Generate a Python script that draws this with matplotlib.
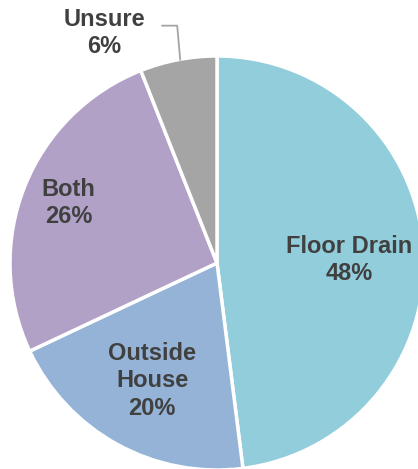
import matplotlib.pyplot as plt
import numpy as np

categories = ["Floor Drain", "Outside House", "Both", "Unsure"]
shares = [48, 20, 26, 6]
colors = ["#92CDDC", "#95B3D7", "#B2A1C7", "#A5A5A5"]
label_text = ["Floor Drain", "Outside\nHouse", "Both", "Unsure"]

W, H = 418, 469
fig = plt.figure(figsize=(W / 100, H / 100), dpi=100)
ax = fig.add_axes([0, 0, 1, 1])

cx, cy, r = 217, H - 263, 207
wedges, _ = ax.pie(shares, colors=colors, startangle=90, counterclock=False,
                   center=(cx, cy), radius=r, frame=True,
                   wedgeprops=dict(edgecolor="white", linewidth=2.5))
ax.set_xlim(0, W)
ax.set_ylim(0, H)
ax.set_aspect("equal")
ax.axis("off")

font = dict(family="Liberation Sans", weight="bold", size=17, color="#404040",
            ha="center", va="center", linespacing=1.24)

# label distance as a fraction of the radius, plus a vertical nudge, per slice
dist = [0.64, 0.65, 0.77]
nudge = [-5, 0, 1]
for w, name, val, d, dy in zip(wedges[:3], label_text[:3], shares[:3], dist, nudge):
    mid = np.deg2rad((w.theta1 + w.theta2) / 2)
    x = cx + d * r * np.cos(mid)
    y = cy + d * r * np.sin(mid) + dy
    ax.text(x, y, f"{name}\n{val}%", **font)

# small slice gets an outside label with a leader line
w = wedges[3]
mid = np.deg2rad((w.theta1 + w.theta2) / 2)
ex, ey = cx + r * np.cos(mid), cy + r * np.sin(mid)
ax.plot([ex + 2, ex - 1, ex - 16], [ey, ey + 34, ey + 34], color="#A5A5A5", lw=1.3)
ax.text(ex - 74, ey + 27, f"{label_text[3]}\n{shares[3]}%", **font)

fig.savefig("out.png", dpi=100, facecolor="white")
